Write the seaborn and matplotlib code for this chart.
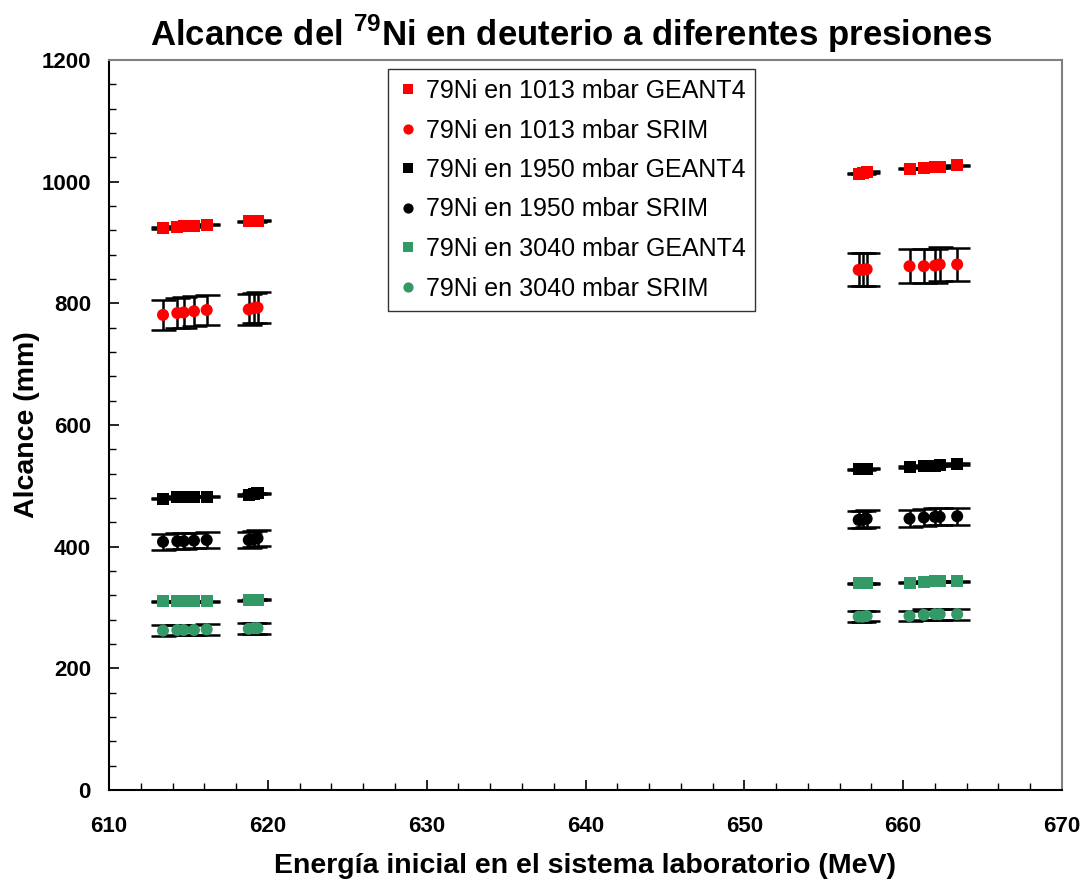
import numpy as np
import pandas as pd
import matplotlib
matplotlib.use("Agg")
import matplotlib.pyplot as plt
from matplotlib.ticker import MultipleLocator
import seaborn as sns

# ---------------- data ----------------
energy = [613.4, 614.3, 614.7, 615.35, 616.15, 618.8, 619.1, 619.35,
          657.2, 657.45, 657.7, 660.4, 661.3, 662.0, 662.3, 663.4]

g4_1013 = [924, 926, 927, 927, 929, 935, 935, 936,
           1013, 1014, 1016, 1021, 1022, 1024, 1024, 1027]
srim_1013 = [781, 784, 785, 787, 789, 790, 792, 793,
             855, 855, 856, 861, 861, 862, 864, 864]
srim_1013_err = [25, 25, 25, 25, 25, 25, 25, 25,
                 27, 27, 27, 28, 28, 28, 28, 27]

g4_1950 = [479, 482, 482, 482, 482, 485, 487, 488,
           527, 527, 528, 531, 533, 533, 534, 536]
srim_1950 = [408, 409, 409, 410, 411, 411, 412, 414,
             444, 444, 446, 446, 448, 449, 449, 450]
srim_1950_err = [13, 13, 13, 13, 13, 13, 13, 13,
                 14, 14, 14, 14, 14, 14, 14, 14]

g4_3040 = [310, 310, 310, 310, 310, 312, 313, 313,
           340, 340, 340, 341, 342, 343, 343, 343]
srim_3040 = [262, 263, 263, 263, 264, 265, 266, 266,
             285, 285, 286, 286, 288, 289, 289, 289]
srim_3040_err = [9, 9, 9, 9, 9, 9, 9, 9,
                 9, 9, 9, 9, 9, 9, 9, 9]

g4_err = 1.0

labels = ["79Ni en 1013 mbar GEANT4", "79Ni en 1013 mbar SRIM",
          "79Ni en 1950 mbar GEANT4", "79Ni en 1950 mbar SRIM",
          "79Ni en 3040 mbar GEANT4", "79Ni en 3040 mbar SRIM"]
values = [g4_1013, srim_1013, g4_1950, srim_1950, g4_3040, srim_3040]
errors = [None, srim_1013_err, None, srim_1950_err, None, srim_3040_err]
colors = ["#FF0000", "#FF0000", "#000000", "#000000", "#339966", "#339966"]
markers = ["s", "o", "s", "o", "s", "o"]

title_txt = r"Alcance del $^{\mathbf{79}}$Ni en deuterio a diferentes presiones"
xlabel_txt = "Energía inicial en el sistema laboratorio (MeV)"
ylabel_txt = "Alcance (mm)"

# ---------------- style ----------------
sns.set_theme(style="white")
plt.rcParams["font.family"] = ["Liberation Sans", "DejaVu Sans"]
plt.rcParams["mathtext.fontset"] = "custom"
plt.rcParams["mathtext.rm"] = "Liberation Sans:bold"
plt.rcParams["mathtext.bf"] = "Liberation Sans:bold"
for k in ["text.color", "axes.labelcolor", "xtick.color", "ytick.color"]:
    plt.rcParams[k] = "black"

df = pd.concat([pd.DataFrame({"Energia": energy, "Alcance": v, "Serie": lab})
                for lab, v in zip(labels, values)], ignore_index=True)

fig = plt.figure(figsize=(10.87, 8.83), dpi=100)
ax = fig.add_axes([109/1087, 1-790/883, (1062-109)/1087, (790-60)/883])

# error bars
for lab, v, e in zip(labels, values, errors):
    if e is None:
        ax.errorbar(energy, v, yerr=g4_err, fmt="none", ecolor="black",
                    elinewidth=1.5, capsize=9, capthick=1.8, zorder=2)
    else:
        ax.errorbar(energy, v, yerr=e, fmt="none", ecolor="black",
                    elinewidth=1.8, capsize=9, capthick=1.8, zorder=2)

sns.scatterplot(data=df, x="Energia", y="Alcance", hue="Serie", style="Serie",
                hue_order=labels, style_order=labels,
                palette=dict(zip(labels, colors)),
                markers=dict(zip(labels, markers)),
                s=75, linewidth=0, ax=ax, zorder=3)

ax.set_xlim(610, 670)
ax.set_ylim(0, 1200)
ax.xaxis.set_major_locator(MultipleLocator(10))
ax.xaxis.set_minor_locator(MultipleLocator(2))
ax.yaxis.set_major_locator(MultipleLocator(200))
ax.yaxis.set_minor_locator(MultipleLocator(40))

ax.tick_params(axis="both", which="major", direction="in", length=7, width=1.2,
               color="black", labelsize=16, labelcolor="black")
ax.tick_params(axis="both", which="minor", direction="in", length=5, width=1.0,
               color="black")
ax.tick_params(axis="x", which="both", bottom=True, top=False, pad=19)
ax.tick_params(axis="y", which="both", left=True, right=False, pad=13)
for t in ax.get_xticklabels() + ax.get_yticklabels():
    t.set_fontweight("bold")

for s in ["left", "bottom"]:
    ax.spines[s].set_color("black")
    ax.spines[s].set_linewidth(1.5)
for s in ["top", "right"]:
    ax.spines[s].set_color("#808080")
    ax.spines[s].set_linewidth(1.5)

ax.set_xlabel(xlabel_txt, fontsize=20.5, fontweight="bold", labelpad=11, color="black")
ax.set_ylabel(ylabel_txt, fontsize=20.5, fontweight="bold", labelpad=1, color="black")
ax.set_title(title_txt, fontsize=25, fontweight="bold", x=0.485, pad=10, color="black")

leg = ax.legend(loc="upper left", bbox_to_anchor=((388-109)/953, (790-69)/730),
                frameon=True, fancybox=False, edgecolor="black", fontsize=18,
                markerscale=0.85, handletextpad=0.3, labelspacing=0.62,
                borderpad=0.4, handlelength=0.8, borderaxespad=0)
leg.get_frame().set_linewidth(1.0)
for t in leg.get_texts():
    t.set_color("black")

fig.savefig("out.png", dpi=100, facecolor="white")
